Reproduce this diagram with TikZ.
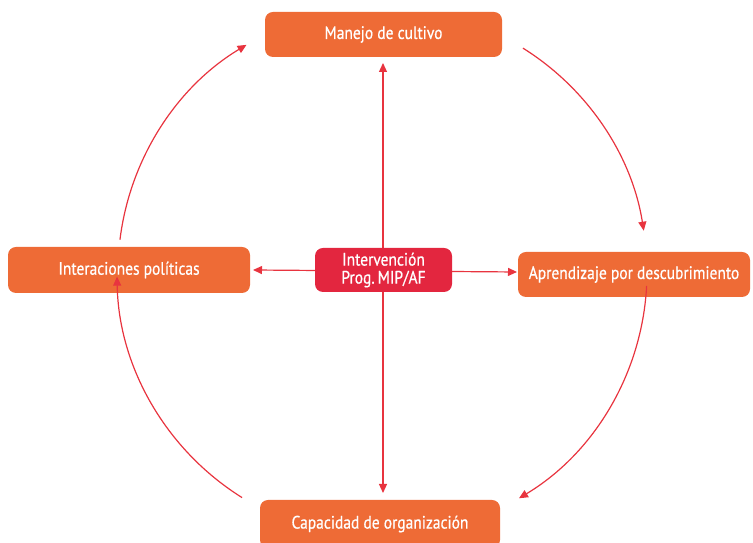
\documentclass[tikz,border=0pt]{standalone}
\usepackage{fontspec}
\setmainfont[FakeStretch=0.86,FakeBold=0.6]{PT Sans}
\usetikzlibrary{arrows.meta}
\definecolor{boxorange}{HTML}{EE6B36}
\definecolor{boxred}{HTML}{E3263F}
\definecolor{arrowred}{HTML}{E8343F}
\tikzset{
  obox/.style={fill=boxorange, rounded corners=8pt, text=white, inner sep=0pt, font=\fontsize{18}{19}\selectfont},
  cbox/.style={fill=boxred, rounded corners=8pt, text=white, inner sep=0pt, align=center, font=\fontsize{18}{18}\selectfont},
  conn/.style={draw=arrowred, line width=1.2pt, -{Triangle[length=9pt,width=8pt]}},
}
\begin{document}
\begin{tikzpicture}[x=1pt,y=1pt]
\useasboundingbox (0,0) rectangle (753,543);
\coordinate (cen) at (383,272);
\coordinate (topend) at (383,480);
\coordinate (botend) at (383,50);
\coordinate (leftend) at (253,273);
\coordinate (rightend) at (517,271);
\node[obox, minimum width=237pt, minimum height=45pt] (manejo) at (383.5,508.5) {Manejo de cultivo};
\node[obox, minimum width=242pt, minimum height=46pt] (inter) at (129,273) {Interaciones políticas};
\node[obox, minimum width=232pt, minimum height=45pt] (apren) at (634,268.5) {Aprendizaje por descubrimiento};
\node[obox, minimum width=240pt, minimum height=48pt] (capac) at (380,19) {Capacidad de organización};
\draw[conn] (cen) -- (topend);
\draw[conn] (cen) -- (botend);
\draw[conn] (cen) -- (leftend);
\draw[conn] (cen) -- (rightend);
\node[cbox, minimum width=137pt, minimum height=44pt] (interv) at (383.5,273) {Intervención\\Prog.\,MIP/AF};
\coordinate (arcc) at (383,271);
\draw[conn] ([shift={(58:264)}]arcc) arc[start angle=58, end angle=9, radius=264];
\draw[conn] ([shift={(-3:264)}]arcc) arc[start angle=-3, end angle=-59, radius=264];
\draw[conn] ([shift={(238:266)}]arcc) arc[start angle=238, end angle=181, radius=266];
\draw[conn] ([shift={(173:265)}]arcc) arc[start angle=173, end angle=121, radius=265];
\end{tikzpicture}
\end{document}
